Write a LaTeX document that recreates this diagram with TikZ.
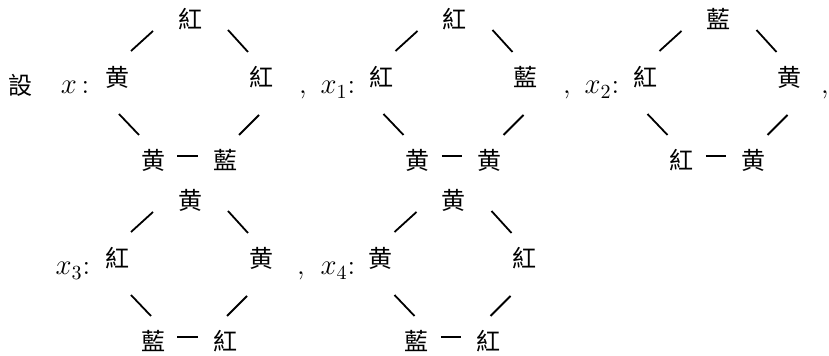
\documentclass[tikz,border=0pt]{standalone}
\usepackage{fontspec}
\newfontfamily\cjk{Noto Sans CJK TC}
\tikzset{
  hanzi/.style={font=\cjk\fontsize{12}{12}\selectfont, inner sep=0pt},
  lbl/.style={font=\fontsize{14}{16}\selectfont, inner sep=0pt, anchor=base},
  stroke/.style={line width=0.9pt},
  bar/.style={line width=0.9pt, shorten <=6pt, shorten >=7.5pt}
}
\begin{document}
\begin{tikzpicture}[x=0.5pt,y=-0.5pt]
  \useasboundingbox (0,0) rectangle (829,356);
  % labels and commas
  \node[lbl,font=\cjk\fontsize{12}{12}\selectfont] (she) at (21,95) {設};
  \node[lbl] (lx)  at (75,94)  {$x$\,:};
  \node[lbl] (c1)  at (303,94) {,};
  \node[lbl] (lx1) at (338,94) {$x_1$:};
  \node[lbl] (c2)  at (567,94) {,};
  \node[lbl] (lx2) at (602,94) {$x_2$:};
  \node[lbl] (c3)  at (825,94) {,};
  \node[lbl] (lx3) at (73,275) {$x_3$:};
  \node[lbl] (c4)  at (301,275) {,};
  \node[lbl] (lx4) at (338,275) {$x_4$:};
  % the five rings
  \foreach \nm/\cx/\cy/\sh/\tp/\lf/\rt/\ba/\bb in {
      0/189/77/0/紅/黄/紅/黄/藍,
      1/453.5/77/0/紅/紅/藍/黄/黄,
      2/717.5/77/0/藍/紅/黄/紅/黄,
      3/189/258/12/黄/紅/黄/藍/紅,
      4/452.5/258/12/黄/黄/紅/藍/紅}{
    \node[hanzi] (top\nm) at (\cx+1,\cy-58) {\tp};
    \node[hanzi] (lft\nm) at (\cx-72,\cy)   {\lf};
    \node[hanzi] (rgt\nm) at (\cx+72,\cy)   {\rt};
    \node[hanzi] (bl\nm)  at (\cx-36,\cy+83) {\ba};
    \node[hanzi] (br\nm)  at (\cx+36,\cy+83) {\bb};
    \draw[stroke] ([shift={(14,-26)}]lft\nm.center) -- ([shift={(-37,12)}]top\nm.center);
    \draw[stroke] ([shift={(38,11)}]top\nm.center) -- ([shift={(-13,-25)}]rgt\nm.center);
    \draw[stroke] ([shift={(2+\sh,37)}]lft\nm.center) -- ([shift={(-14+\sh,-25)}]bl\nm.center);
    \draw[stroke] ([shift={(14-\sh,-25)}]br\nm.center) -- ([shift={(-2-\sh,38)}]rgt\nm.center);
    \draw[bar] ([yshift=2pt]bl\nm.east) -- ([yshift=2pt]br\nm.west);
  }
\end{tikzpicture}
\end{document}
